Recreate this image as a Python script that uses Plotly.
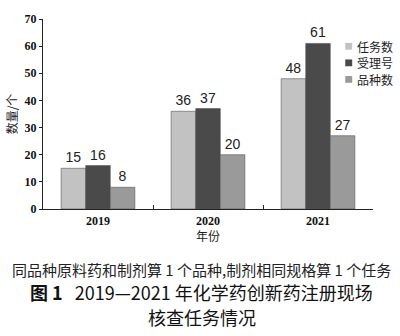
import plotly.graph_objects as go

years = ["2019", "2020", "2021"]
series_names = ["任务数", "受理号", "品种数"]
tasks = [15, 36, 48]
accept = [16, 37, 61]
varieties = [8, 20, 27]
colors = ["#c2c2c2", "#4a4a4a", "#9a9a9a"]
y_ticks = [0, 10, 20, 30, 40, 50, 60, 70]

fig = go.Figure()
for name, vals, c in zip(series_names, [tasks, accept, varieties], colors):
    fig.add_trace(go.Bar(
        x=years, y=vals, name=name, marker=dict(color=c, line=dict(color="#555555", width=0.6)),
        text=[str(v) for v in vals], textposition="outside", cliponaxis=False,
        textfont=dict(family="Liberation Sans, Arial", size=14, color="#222222"),
    ))

serif_b = "Liberation Serif, Times New Roman"
cjk = "Noto Sans CJK SC"

L, R, T, B = 40, 27, 14, 127
W, H = 400, 336
pw, ph = W - L - R, H - T - B

def px2x(px):
    return (px - L) / pw

def py2y(py):
    return (H - B - py) / ph

fig.update_layout(
    width=W, height=H, barmode="group", bargap=0.33, bargroupgap=0,
    margin=dict(l=L, r=R, t=T, b=B),
    paper_bgcolor="white", plot_bgcolor="white",
    showlegend=False,
    xaxis=dict(type="category", showline=True, linecolor="#222222", linewidth=1.2,
               ticks="inside", ticklen=4, tickson="boundaries", tickcolor="#222222",
               tickfont=dict(family=serif_b, size=12, color="#111111", weight="bold"),
               title=dict(text="年份", font=dict(family=cjk, size=12, color="#222222"), standoff=6)),
    yaxis=dict(range=[0, 70], tickvals=y_ticks, showgrid=False, zeroline=False,
               showline=True, linecolor="#222222", linewidth=1.2,
               ticks="outside", ticklen=3, tickcolor="#222222",
               tickfont=dict(family=serif_b, size=12, color="#111111", weight="bold"),
               title=dict(text="数量/个", font=dict(family=cjk, size=12, color="#222222"), standoff=4)),
)

# manual legend
for i, (name, c) in enumerate(zip(series_names, colors)):
    cy = 42 + 17 * i
    fig.add_shape(type="rect", xref="paper", yref="paper",
                  x0=px2x(345), x1=px2x(352), y0=py2y(cy + 3.5), y1=py2y(cy - 3.5),
                  fillcolor=c, line=dict(width=0))
    fig.add_annotation(text=name, xref="paper", yref="paper", x=px2x(356), y=py2y(cy),
                       xanchor="left", yanchor="middle", showarrow=False, borderpad=0,
                       font=dict(family=cjk, size=12, color="#222222"))

cx = px2x(200)
fig.add_annotation(text="同品种原料药和制剂算 1 个品种,制剂相同规格算 1 个任务",
                   xref="paper", yref="paper", x=cx, y=py2y(271),
                   xanchor="center", yanchor="middle", showarrow=False,
                   font=dict(family=cjk, size=15, color="#222222"))
fig.add_annotation(text="<b>图 1</b>   2019—2021 年化学药创新药注册现场",
                   xref="paper", yref="paper", x=cx, y=py2y(294),
                   xanchor="center", yanchor="middle", showarrow=False,
                   font=dict(family=cjk, size=18, color="#111111"))
fig.add_annotation(text="核查任务情况",
                   xref="paper", yref="paper", x=cx, y=py2y(320),
                   xanchor="center", yanchor="middle", showarrow=False,
                   font=dict(family=cjk, size=18, color="#111111"))

fig.write_html("out.html")
